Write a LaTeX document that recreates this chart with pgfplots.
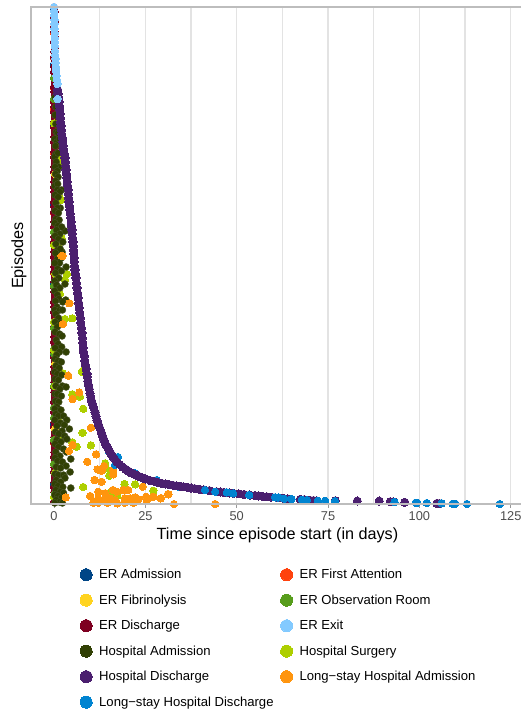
\documentclass[border=0pt]{standalone}
\usepackage{pgfplots}
\pgfplotsset{compat=1.18}
\usepackage{fontspec}
\setmainfont{Liberation Sans}
\definecolor{cAdm}{HTML}{004586}
\definecolor{cFirst}{HTML}{FF420E}
\definecolor{cFib}{HTML}{FFD320}
\definecolor{cObs}{HTML}{579D1C}
\definecolor{cDis}{HTML}{7E0021}
\definecolor{cExit}{HTML}{83CAFF}
\definecolor{cHAdm}{HTML}{314004}
\definecolor{cSurg}{HTML}{AECF00}
\definecolor{cHDis}{HTML}{4B1F6F}
\definecolor{cLAdm}{HTML}{FF950E}
\definecolor{cLDis}{HTML}{0084D1}
\definecolor{bord}{HTML}{BDBDBD}
\pgfplotsset{
 pts/.style={only marks,mark=*,mark size=3.7pt,forget plot,mark options={draw=#1,line width=0pt,fill=#1}},
 rpts/.style={only marks,mark=*,mark size=3.5pt,forget plot,mark options={draw=#1!70!gray,line width=0.4pt,fill=#1}},
 leg/.style={only marks,mark=*,mark size=6pt,mark options={draw=#1,line width=0pt,fill=#1}}
}
\begin{document}
\begin{tikzpicture}[x=1pt,y=1pt]
\useasboundingbox (-31,-213) rectangle (491,504);
\begin{axis}[
 at={(0pt,0pt)},anchor=south west,
 scale only axis,width=490pt,height=497pt,
 xmin=-6.3,xmax=127.8,ymin=0,ymax=497,
 axis line style={draw=none},
 xtick={0,25,50,75,100,125},
 minor xtick={12.5,37.5,62.5,87.5,112.5},
 ytick=\empty,
 xmajorgrids,xminorgrids,
 major grid style={draw=black!11,line width=1.2pt},
 minor grid style={draw=black!11,line width=1.2pt},
 major tick style={draw=gray!80,line width=0.7pt},
 minor tick style={draw=none},
 tickwidth=3.5pt,subtickwidth=0pt,
 tick align=outside,
 xtick pos=bottom,
 /pgf/number format/assume math mode=true,
 xticklabel style={font=\fontsize{12.8}{14}\selectfont,text=black!70,yshift=-1pt},
 xlabel={Time since episode start (in days)},
 xlabel style={font=\fontsize{16.2}{18}\selectfont,at={(axis description cs:0.503,-0.0624)},anchor=center},
 ylabel={Episodes},
 ylabel style={font=\fontsize{16.2}{18}\selectfont,at={(axis description cs:-0.0245,0.5)},anchor=center},
 legend columns=2,
 legend cell align=left,
 legend style={draw=none,fill=none,at={(axis description cs:0.1,0)},anchor=north west,yshift=-62pt,xshift=-3pt,
  font=\fontsize{13.1}{15}\selectfont,
  column sep=6pt,row sep=12.5pt,
  nodes={inner sep=1pt}},
]
\addlegendimage{leg=cAdm}\addlegendentry{ER Admission}
\addlegendimage{leg=cFirst}\addlegendentry{ER First Attention}
\addlegendimage{leg=cFib}\addlegendentry{ER Fibrinolysis}
\addlegendimage{leg=cObs}\addlegendentry{ER Observation Room}
\addlegendimage{leg=cDis}\addlegendentry{ER Discharge}
\addlegendimage{leg=cExit}\addlegendentry{ER Exit}
\addlegendimage{leg=cHAdm}\addlegendentry{Hospital Admission}
\addlegendimage{leg=cSurg}\addlegendentry{Hospital Surgery}
\addlegendimage{leg=cHDis}\addlegendentry{Hospital Discharge}
\addlegendimage{leg=cLAdm}\addlegendentry{Long−stay Hospital Admission}
\addlegendimage{leg=cLDis}\addlegendentry{Long−stay Hospital Discharge}
% ER Admission
\addplot[pts=cAdm] coordinates {(0,495)(0,440)(0,380)(0,300)(0,220)(0,150)(0,80)(0,20)};
% ER First Attention
\addplot[pts=cFirst] coordinates {(0.1,470)(0.1,445)(0.2,430)(0.1,415)(0,395)(0.1,350)(0.1,290)(0.1,230)(0.1,130)(0.1,60)};
% ER Discharge
\addplot[pts=cDis] coordinates {
(0,497)(0.1,492)(0,487)(0.2,482)(0,477)(0.1,472)(0.2,467)(0,462)(0.2,457)(0.1,452)(0,447)(0.2,442)(0.1,437)(0,432)(0.2,427)(0.3,422)(0,417)(0.1,412)(0.2,407)(0,402)
(0.1,397)(0,392)(0.2,387)(0.1,382)(0,377)(0.2,372)(0.1,367)(0,362)(0.2,357)(0.1,352)(0,347)(0.2,342)(0.1,337)(0,332)(0.2,327)(0.1,322)(0,317)(0.1,312)(0.2,307)(0,302)
(0.1,297)(0,292)(0.2,287)(0.1,282)(0,277)(0.2,272)(0.1,267)(0,262)(0.2,257)(0.1,252)(0,247)(0.2,242)(0.1,237)(0,232)(0.2,227)(0.1,222)(0,217)(0.1,212)(0.2,207)(0,202)
(0.1,197)(0,192)(0.2,187)(0.1,182)(0,177)(0.2,172)(0.1,167)(0,162)(0.2,157)(0.1,152)(0,147)(0.2,142)(0.1,137)(0,132)(0.2,127)(0.1,122)(0,117)(0.1,112)(0.2,107)(0,102)
(0.1,97)(0,92)(0.2,87)(0.1,82)(0,77)(0.2,72)(0.1,67)(0,62)(0.2,57)(0.1,52)(0,47)(0.2,42)(0.1,37)(0,32)(0.2,27)(0.1,22)(0,17)(0.1,12)(0.2,7)(0,2)
};
% ER Observation Room
\addplot[pts=cObs] coordinates {(0,426)(0,405)(0,272)(0,259)(0,218)(0,176)(0,155)(0.1,150)(0,118)(0,96)(0,40)(0.2,10)(0,86)(0,64)};
% ER Fibrinolysis
\addplot[pts=cFib] coordinates {(0.3,330)(0.4,140)(0.3,75)};
% Hospital Surgery
\addplot[pts=cSurg] coordinates {
(3.5,230)(3.0,224)(5.0,185.7)(3.0,185)(2.4,130.7)(7.6,132.3)(5.0,109.7)(7.1,107.3)(8.0,95.3)(7.8,71.3)(10.1,58.7)(5,61.7)(6.2,57.3)(14,40.7)(14.2,35.7)(15.1,28.3)(19.3,20)(22.2,19.7)(8.0,17)(27.2,13.3)(17.3,8)(15.3,11.3)(0.3,31.3)(0,182)(0,154)(0,7)
(0,380.7)(1.2,344)(0.9,347)(1.5,339)(1.5,305.7)(1.8,304)(2.1,265.7)(0,259)(0.9,259)(0.4,230)(1.6,210)(0.3,118)(1.5,88)(2.0,68)
};
% Hospital Admission
\addplot[rpts=cHAdm] coordinates {
(0.7,413)(0.3,407)(0.5,397)(0.3,389)(0.5,380)(0.6,372)(1.1,371)(0.2,365)(0.8,362)(0.4,358)(1.5,365)(0.5,350)(0.2,347)(1.1,351)(0.6,342)(1.3,337)
(0.3,337)(0.9,333)(0.4,330)(1.1,327)(0.5,323)(0.2,318)(1.0,320)(2.1,314)(0.9,314)(1.6,312)(0.3,309)(1.1,307)(0.5,301)(1.7,296)(0.9,296)(0.3,293)(1.2,291)
(0.5,285)(1.4,284)(0.2,281)(1.1,278)(3.0,273)(2.1,277)(0.7,274)(1.6,270)(0.3,268)(1.2,265)(2.4,262)(0.5,260)(1.0,254)(2.2,252)(1.7,255)(0.4,251)(2.0,246)
(0.9,245)(1.5,241)(0.2,241)(3.3,237)(1.0,235)(2.0,233)(0.4,231)(1.3,226)(0.2,223)(3,220)(0.7,219)(1.6,216)(0.2,213)(0.9,209)(1.3,205)(3.2,204)(0.4,203)(2.4,202)
(0.8,197)(0.2,194)(1.6,194)(2.3,194)(0.5,190)(1.2,186)(0.3,182)(1.9,181)(0.9,177)(0.3,172)(1.5,170)(2.2,168)(0.6,164)(1.1,160)(0.3,156)(2.1,157)(3.3,152)(1.5,152)
(0.7,149)(0.3,145)(1.1,143)(2.0,142)(0.5,138)(1.4,136)(0.2,132)(0.9,130)(2.1,129)(0.3,125)(1.2,124)(2.3,118)(3.3,117)(0.5,118)(1.6,115)(0.3,110)(0.9,110)(2.0,108)
(0.4,103)(1.3,102)(0.8,97)(0.2,95)(1.9,94)(0.5,90)(1.2,88)(2.6,88)(3.5,84)(0.2,84)(1.7,81)(2.8,79)(0.8,78)(4.2,75)(2.2,73)(0.4,72)(1.3,70)(2.9,68)(3.5,65)
(0.8,64)(1.9,62)(0.3,60)(1.2,57)(2.6,55)(3.4,52)(0.5,52)(1.6,48)(4.6,45)(0.3,46)(1.0,43)(2.3,42)(3.3,38)(0.6,37)(1.8,36)(4.4,32)(0.3,30)(1.2,29)(2.6,29)(3,26)
(0.6,24)(1.8,22)(0.2,20)(1.1,18)(2.4,17)(4.6,16)(0.5,14)(1.7,12)(2.6,11)(0.2,9)(1.1,8)(2.0,6)(0.6,4)(1.5,2)(0.2,1)(2.3,1)
};
% Long-stay Hospital Admission
\addplot[pts=cLAdm] coordinates {
(4.2,200.7)(3.9,128.3)(6.9,111.7)(5.1,105)(10.1,76.3)(4.1,53)(5.1,59)(11.5,49.7)(9.1,42.3)(11.9,34.7)(13.0,33.3)(13.7,38)(16.2,34)(16.2,29.7)(11.1,24)(13.0,22.3)(24.3,17.3)(9.9,8)(12.1,12.3)(12.1,5.7)(14.0,10.7)(13.7,3.3)(15.3,5.7)(16.1,14)(17.2,12.3)(16.7,4)(19.0,14)(20.3,14)(19.4,5.7)(20.8,5.7)(22.2,6.7)(23.1,4.7)(25.2,7.3)(25.4,3.3)(27.2,7.3)(29.2,5.7)(31.3,9.7)(32.8,0)(3.2,6.7)(10.8,1.3)(12.1,1.3)(14.6,1.3)(17.3,0.7)(19.4,1.3)(21.7,1.3)(27.1,7)(29.3,6)(31.2,10)(44.1,0)(2.1,248)(2.3,248)(2.4,180)
};
% Long-stay Hospital Discharge (under)
\addplot[pts=cLDis] coordinates {(15.1,52)(16.7,39)(28.1,24)(34,17.3)(17.5,47)(22,31)};
% Hospital Discharge
\addplot[only marks,mark=*,mark size=4.1pt,forget plot,mark options={draw=cHDis,line width=0pt,fill=cHDis}] coordinates {
(1.0,414)(1.1,410)(1.3,406)(1.4,402)(1.5,398)(1.6,394)(1.7,390)(1.75,386)(1.8,382)(1.9,378)(2.0,374)(2.1,370)(2.3,366)(2.4,362)(2.5,358)(2.7,354)(2.85,350)(3.0,346)(3.1,342)(3.2,338)(3.3,334)(3.4,330)(3.5,326)(3.6,322)(3.75,318)(3.9,314)(3.95,310)(4.0,306)(4.1,302)(4.2,298)(4.3,294)(4.45,290)(4.6,286)(4.7,282)(4.8,278)(4.9,274)(5.0,270)(5.1,266)(5.2,262)(5.3,258)
(5.35,254)(5.4,250)(5.5,246)(5.55,242)(5.65,238)(5.75,234)(5.9,230)(6.0,226)(6.15,221)(6.3,216)(6.45,211)(6.6,206)(6.75,201)(6.9,196)(7.05,191)(7.2,186)(7.35,181)(7.5,176)(7.65,171)(7.75,166)(7.9,161)(8.0,156)(8.1,152)(8.3,148)(8.45,143)(8.6,139)(8.8,135)(9.0,130)(9.1,127)(9.25,123)(9.45,119)(9.65,115)(9.85,111)(10.05,107)(10.3,103)(10.55,100)(10.9,96)(11.2,92)(11.5,88)(11.75,84)(12.1,80)(12.5,76)(12.9,72)(13.3,68)(13.7,64)(14.1,60)(14.6,57)(15.0,54)(15.5,51)(16.0,48)(16.6,45)(17.2,42)(18.0,39.5)(18.7,37)(19.5,35)(20.3,33)(21.2,31)(22.1,29.5)(23,28)(24,26.5)(25,25)(26.3,23.5)
(27.5,22.5)(28.5,21.5)(29.5,20.7)(30.5,20)(31.5,19.4)(32.5,18.8)(33.5,18.2)(34.5,17.7)(35.4,17.3)(36.5,16.7)(37.5,16)(38.5,15.4)(39.9,14.7)(41,14.2)(42.5,13.4)(44.5,12.3)(45.5,12)(46.5,11.6)(48,11.1)(49.1,10.7)(50.5,10.2)(52,9.6)(53.6,9)(55,8.5)(56,8.1)(57,7.7)(58.2,7.3)(59.5,6.9)(61.5,6.2)(62.8,5.7)(64,5.2)(67.4,4.7)(68.5,4.4)(70,3.8)(71,3.5)(71.9,3.3)(77,3.3)(83,3)(89,3)(92,2.3)(92.8,2.2)(96,1.7)(104.8,0.7)(105.5,0.5)
};
% Long-stay Hospital Discharge (over)
\addplot[pts=cLDis] coordinates {
(41.3,14)(44.1,12.3)(47.3,11.7)(49,10.7)(53.4,9)(60.5,6.7)(61.4,6.5)(63,5.3)(65,5)(67.8,4.3)(69.2,4)(72.2,3.3)(74.2,3.3)(76.9,3)(93.2,2)(99,1.3)(99.4,1.3)(102,1)(106.1,0.7)(109.1,0.3)(109.8,0.3)(113,0)(122,0)
};
% ER Exit
\addplot[pts=cExit] coordinates {
(0,497)(0,493)(0.05,489)(0.1,484)(0.1,480)(0.1,475)(0.2,471)(0.2,466)(0.2,462)(0.2,458)(0.3,453)(0.3,449)(0.4,445)(0.4,441)(0.5,437)(0.6,433)(0.7,428)(0.8,424)(0.9,420)(1.0,405)
};
\end{axis}
\draw[bord,line width=1.5pt] (490,497)--(0,497)--(0,0)--(490,0);
\end{tikzpicture}
\end{document}
